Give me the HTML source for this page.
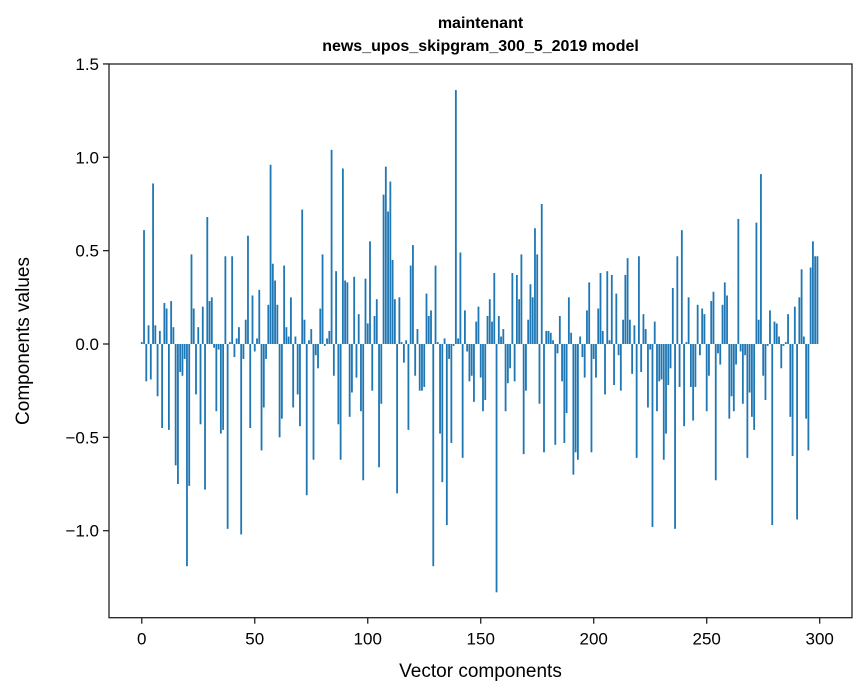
<!DOCTYPE html>
<html><head><meta charset="utf-8"><style>
html,body{margin:0;padding:0;background:#fff;}
svg{display:block;font-family:"Liberation Sans","DejaVu Sans",sans-serif;}
</style></head><body>
<svg id="chart" width="867" height="696" viewBox="0 0 867 696" xmlns="http://www.w3.org/2000/svg">
<rect width="867" height="696" fill="#fff"/>
<text x="480.5" y="28" text-anchor="middle" font-size="16" font-weight="bold" fill="#000">maintenant</text>
<text x="480.5" y="51" text-anchor="middle" font-size="16" font-weight="bold" fill="#000">news_upos_skipgram_300_5_2019 model</text>
<g id="bars"></g>
<g id="axes"></g>
<text x="480.5" y="677" text-anchor="middle" font-size="19" fill="#000">Vector components</text>
<text transform="translate(29,341) rotate(-90)" text-anchor="middle" font-size="19" fill="#000">Components values</text>
</svg>
<script>
const values = [
0.01,0.61,-0.20,0.10,-0.19,0.86,0.10,-0.28,0.07,-0.45,
0.22,0.19,-0.46,0.23,0.09,-0.65,-0.75,-0.15,-0.17,-0.08,
-1.19,-0.76,0.48,0.19,-0.27,0.09,-0.43,0.20,-0.78,0.68,
0.23,0.25,-0.02,-0.36,-0.03,-0.48,-0.46,0.47,-0.99,0.01,
0.47,-0.07,0.03,0.09,-1.02,-0.08,0.13,0.58,-0.45,0.26,
-0.04,0.03,0.29,-0.57,-0.34,-0.08,0.21,0.96,0.43,0.34,
0.21,-0.50,-0.40,0.42,0.09,0.04,0.25,-0.34,0.04,-0.27,
-0.44,0.72,0.13,-0.81,0.02,0.08,-0.62,-0.06,-0.13,0.19,
0.48,-0.01,0.03,0.07,1.04,-0.17,0.39,-0.43,-0.62,0.94,
0.34,0.33,-0.39,-0.26,0.36,-0.18,0.16,-0.36,-0.73,0.35,
0.11,0.55,-0.25,0.15,0.24,-0.66,-0.32,0.80,0.95,0.71,
0.87,0.45,0.24,-0.80,0.25,0.01,-0.10,0.02,-0.46,0.42,
0.53,-0.17,0.08,-0.25,-0.25,-0.23,0.27,0.15,0.18,-1.19,
0.42,0.01,-0.48,-0.74,0.03,-0.97,-0.08,-0.53,-0.01,1.36,
0.03,0.49,-0.61,0.18,-0.04,-0.20,-0.17,-0.31,0.12,0.20,
-0.18,-0.36,-0.30,0.15,0.24,0.12,0.38,-1.33,0.15,0.04,
0.08,-0.36,-0.21,-0.13,0.38,-0.20,0.37,0.24,0.48,-0.59,
-0.25,0.13,0.32,0.25,0.62,0.48,-0.32,0.75,-0.58,0.07,
0.07,0.06,0.02,-0.54,-0.05,0.15,-0.20,-0.53,-0.37,0.25,
0.06,-0.70,-0.58,-0.62,0.04,-0.07,-0.18,0.18,0.33,-0.58,
-0.08,-0.18,0.19,0.38,0.07,-0.27,0.39,0.02,0.37,-0.22,
0.27,-0.06,-0.25,0.13,0.37,0.46,0.13,-0.16,0.10,-0.61,
0.47,-0.15,0.16,0.08,-0.34,-0.03,-0.98,0.12,-0.36,-0.20,
-0.19,-0.62,-0.48,-0.22,-0.13,0.30,-0.99,0.47,-0.23,0.61,
-0.44,0.01,0.25,-0.23,-0.41,-0.23,0.21,-0.06,0.19,0.16,
-0.36,-0.17,0.23,0.28,-0.73,-0.05,-0.11,0.21,0.33,0.26,
-0.40,-0.28,-0.36,-0.11,0.67,-0.04,-0.32,-0.06,-0.61,-0.26,
-0.39,-0.46,0.65,0.13,0.91,-0.17,-0.30,-0.01,0.18,-0.97,
0.12,0.11,0.04,-0.13,-0.01,0.01,0.16,-0.39,-0.60,0.20,
-0.94,0.25,0.40,0.04,-0.40,-0.57,0.41,0.55,0.47,0.47
];
const xTicks = [0,50,100,150,200,250,300];
const xTickLabels = ["0","50","100","150","200","250","300"];
const yTicks = [1.5,1.0,0.5,0.0,-0.5,-1.0];
const yTickLabels = ["1.5","1.0","0.5","0.0","\u22120.5","\u22121.0"];

const L=109,R=852,T=64,B=617.7;
const xMin=-14.5, xMax=314.3;
const yZero=344, pxPerUnit=186.7;
function xs(v){return L+(v-xMin)/(xMax-xMin)*(R-L);}
function ys(v){return yZero-v*pxPerUnit;}
const NS="http://www.w3.org/2000/svg";
const bars=document.getElementById('bars');
const bw=(xs(0.8)-xs(0));
values.forEach((v,i)=>{
  const r=document.createElementNS(NS,'rect');
  
  
  const y0=ys(0), y1=ys(v);
  r.setAttribute('x',xs(i)-bw/2);
  r.setAttribute('y',Math.min(y0,y1));
  r.setAttribute('width',bw);
  r.setAttribute('height',Math.max(Math.abs(y1-y0),0.3));
  r.setAttribute('fill','#1f77b4');
  bars.appendChild(r);
});
const axes=document.getElementById('axes');
const frame=document.createElementNS(NS,'rect');


frame.setAttribute('x',L);frame.setAttribute('y',T);
frame.setAttribute('width',R-L);frame.setAttribute('height',B-T);
frame.setAttribute('fill','none');frame.setAttribute('stroke','#222');frame.setAttribute('stroke-width','1.3');
axes.appendChild(frame);
xTicks.forEach((t,i)=>{
  const x=xs(t);
  const l=document.createElementNS(NS,'line');
  
  
  l.setAttribute('x1',x);l.setAttribute('x2',x);l.setAttribute('y1',B);l.setAttribute('y2',B+6);
  l.setAttribute('stroke','#222');l.setAttribute('stroke-width','1.3');
  axes.appendChild(l);
  const tx=document.createElementNS(NS,'text');
  
  
  tx.setAttribute('x',x);tx.setAttribute('y',B+27);
  tx.setAttribute('text-anchor','middle');tx.setAttribute('font-size','17');
  tx.textContent=xTickLabels[i];
  axes.appendChild(tx);
});
yTicks.forEach((t,i)=>{
  const y=ys(t);
  const l=document.createElementNS(NS,'line');
  
  
  l.setAttribute('x1',L-6);l.setAttribute('x2',L);l.setAttribute('y1',y);l.setAttribute('y2',y);
  l.setAttribute('stroke','#222');l.setAttribute('stroke-width','1.3');
  axes.appendChild(l);
  const tx=document.createElementNS(NS,'text');
  
  
  tx.setAttribute('x',L-10);tx.setAttribute('y',y+6);
  tx.setAttribute('text-anchor','end');tx.setAttribute('font-size','17');
  tx.textContent=yTickLabels[i];
  axes.appendChild(tx);
});
</script>
</body></html>
